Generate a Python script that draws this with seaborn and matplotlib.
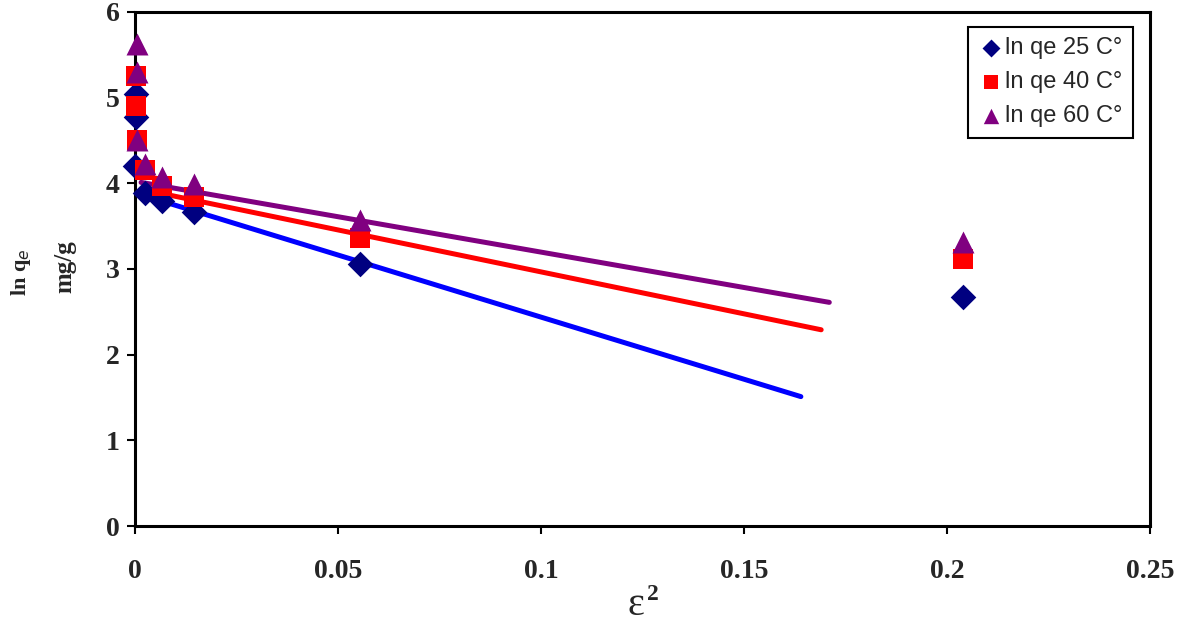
import matplotlib
matplotlib.use("Agg")
import matplotlib.pyplot as plt
import pandas as pd
import seaborn as sns

# D-R isotherm points
eps2_25 = [0.0, 0.0002, 0.0003, 0.0025, 0.0066, 0.0145, 0.0555, 0.204]
lnqe_25 = [4.20, 5.04, 4.77, 3.89, 3.79, 3.66, 3.06, 2.67]
eps2_40 = [0.0002, 0.0003, 0.0004, 0.0025, 0.0066, 0.0145, 0.0555, 0.204]
lnqe_40 = [5.25, 4.90, 4.51, 4.16, 3.97, 3.84, 3.36, 3.12]
eps2_60 = [0.0004, 0.0004, 0.0005, 0.0025, 0.0066, 0.0145, 0.0555, 0.204]
lnqe_60 = [5.63, 5.30, 4.51, 4.22, 4.07, 3.99, 3.57, 3.32]

# linear fit lines (end points)
fit_x_25 = [0.0005, 0.164]
fit_y_25 = [3.88, 1.51]
fit_x_40 = [0.0015, 0.169]
fit_y_40 = [3.93, 2.29]
fit_x_60 = [0.0015, 0.171]
fit_y_60 = [4.01, 2.61]

labels = ["ln qe 25 C°", "ln qe 40 C°", "ln qe 60 C°"]

sns.set_style("white")

fig = plt.figure(figsize=(11.81, 6.25), dpi=100)
ax = fig.add_axes([0.1143, 0.1584, 0.8595, 0.8226])

series = [
    (eps2_25, lnqe_25, fit_x_25, fit_y_25, "D", 170, "#000080", "#0000ff"),
    (eps2_40, lnqe_40, fit_x_40, fit_y_40, "s", 200, "#ff0000", "#ff0000"),
    (eps2_60, lnqe_60, fit_x_60, fit_y_60, "^", 250, "#800080", "#800080"),
]

# fitted lines first, markers on top
for (x, y, fx, fy, mk, size, mcol, lcol), lab in zip(series, labels):
    fit = pd.DataFrame({"x": fx, "y": fy})
    sns.lineplot(data=fit, x="x", y="y", color=lcol, linewidth=3.6,
                 legend=False, ax=ax, zorder=2)

for (x, y, fx, fy, mk, size, mcol, lcol), lab in zip(series, labels):
    pts = pd.DataFrame({"x": x, "y": y})
    sns.scatterplot(data=pts, x="x", y="y", marker=mk, s=size, color=mcol,
                    linewidth=0, label=lab, ax=ax, zorder=3, clip_on=False)

ax.set_xlim(0, 0.25)
ax.set_ylim(0, 6)
ax.set_xticks([0, 0.05, 0.1, 0.15, 0.2, 0.25])
ax.set_xticklabels(["0", "0.05", "0.1", "0.15", "0.2", "0.25"])
ax.set_yticks([0, 1, 2, 3, 4, 5, 6])

for sp in ax.spines.values():
    sp.set_linewidth(2.2)
    sp.set_color("black")

ax.tick_params(direction="out", length=6, width=1.5, color="black",
               bottom=True, left=True, pad=5)
for t in ax.get_xticklabels() + ax.get_yticklabels():
    t.set_fontfamily("Liberation Serif")
    t.set_fontweight("bold")
    t.set_fontsize(20)
ax.tick_params(axis="x", pad=18)

ax.set_xlabel("")
ax.set_ylabel("")
fig.text(0.5385, 0.016, "ε", fontsize=29, fontfamily="Liberation Serif",
         ha="center", va="baseline")
fig.text(0.5475, 0.040, "2", fontsize=17, fontfamily="Liberation Serif",
         fontweight="bold", ha="left", va="baseline")
fig.text(0.018, 0.565, "ln q$_{e}$", rotation=90, fontsize=16,
         fontfamily="Liberation Serif", fontweight="bold",
         ha="center", va="center")
fig.text(0.055, 0.573, "mg/g", rotation=90, fontsize=18,
         fontfamily="Liberation Serif", fontweight="bold",
         ha="center", va="center")

leg = ax.legend(loc="upper right", bbox_to_anchor=(0.983, 0.971),
                borderaxespad=0, fancybox=False, frameon=True,
                edgecolor="black", framealpha=1, markerscale=0.7,
                handletextpad=0.1, handlelength=1.0, labelspacing=0.5,
                borderpad=0.45, prop={"family": "Liberation Sans", "size": 17})
leg.get_frame().set_linewidth(1.5)

fig.savefig("out.png", dpi=100)
